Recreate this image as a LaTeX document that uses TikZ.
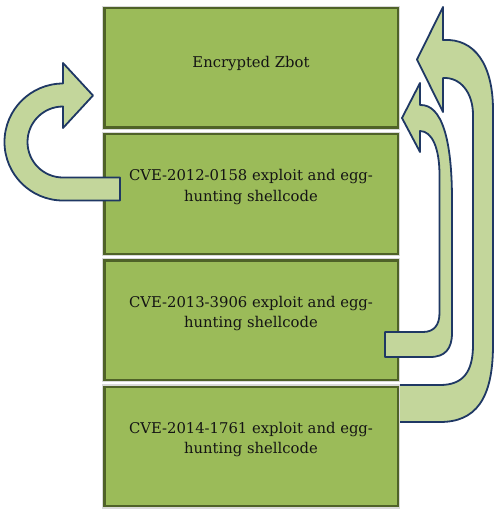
\documentclass[tikz,border=0pt]{standalone}
\usepackage{fontspec}
\setmainfont{DejaVu Serif}
\definecolor{boxgreen}{HTML}{9BBB59}
\definecolor{boxedge}{HTML}{4F6228}
\definecolor{arrowfill}{HTML}{C3D69B}
\definecolor{arrowedge}{HTML}{1F3864}
\definecolor{txt}{HTML}{141414}
\tikzset{
  stackbox/.style={rectangle, fill=boxgreen, draw=boxedge, line width=2.2pt,
    minimum width=293.5pt, minimum height=119.5pt, inner sep=0pt, outer sep=0pt,
    anchor=north west, preaction={draw=gray!30, line width=4.8pt}},
  boxtext/.style={font=\fontsize{14.8}{20.5}\selectfont, text=txt, align=center,
    inner sep=0pt, anchor=base},
  bentarrow/.style={fill=arrowfill, draw=arrowedge, line width=1.8pt, line join=round},
}
\begin{document}
\begin{tikzpicture}[x=1pt, y=-1pt]
\useasboundingbox (0,0) rectangle (500,515);
% outer arrow (behind the boxes)
\draw[bentarrow] (396,385) -- (440,385)
  .. controls (463,385) and (473,372) .. (473,345) -- (473,115)
  .. controls (473,92) and (460,77) .. (443,78) -- (443,112) -- (417,59.5) -- (443,7) -- (443,40)
  .. controls (475,38) and (493,65) .. (493,110) -- (493,345)
  .. controls (493,400) and (475,422) .. (440,422) -- (396,422) -- cycle;
% boxes
\node[stackbox] (b1) at (104.5,8) {};
\node[stackbox] (b2) at (104.5,134.3) {};
\node[stackbox] (b3) at (104.5,260.5) {};
\node[stackbox] (b4) at (104.5,386.7) {};
% texts (base = baseline of the last line)
\node[boxtext] (t1) at (251,67) {Encrypted Zbot};
\node[boxtext] (t2) at (251,201.3) {CVE-2012-0158 exploit and egg-\\hunting shellcode};
\node[boxtext] (t3) at (251,327.5) {CVE-2013-3906 exploit and egg-\\hunting shellcode};
\node[boxtext] (t4) at (251,453.7) {CVE-2014-1761 exploit and egg-\\hunting shellcode};
% inner right arrow
\draw[bentarrow] (385,332) -- (423,332)
  .. controls (434,332) and (439.5,325) .. (439.5,313) -- (439.5,175)
  .. controls (439.5,148) and (432,131) .. (420,131) -- (420,152) -- (402,118) -- (420,83) -- (420,105)
  .. controls (442,104) and (452,140) .. (452,200) -- (452,333)
  .. controls (452,349) and (445,357) .. (430,357) -- (385,357) -- cycle;
% left U-turn arrow
\draw[bentarrow] (120,177.5) -- (120,200.5) -- (63,200.5)
  arc[start angle=90, end angle=270, radius=58.5] -- (63,63) -- (93,95.5) -- (63,128) -- (63,106.5)
  arc[start angle=270, end angle=90, radius=35.5] -- cycle;
\end{tikzpicture}
\end{document}
